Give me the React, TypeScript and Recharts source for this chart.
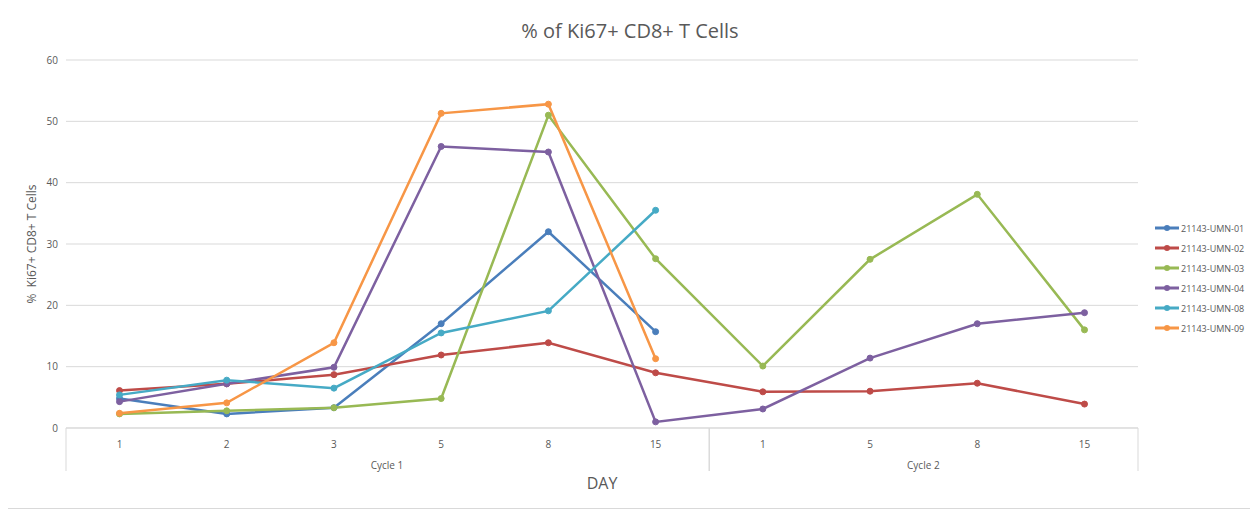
import React from 'react';
import { LineChart, Line, XAxis, YAxis, CartesianGrid } from 'recharts';

// category axis: day within cycle
const days = ['1', '2', '3', '5', '8', '15', '1', '5', '8', '15'];
const cycleGroups = [
  { label: 'Cycle 1', start: 0, count: 6 },
  { label: 'Cycle 2', start: 6, count: 4 },
];
const yTicks = [0, 10, 20, 30, 40, 50, 60];

const umn01 = [4.8, 2.3, 3.3, 17.0, 32.0, 15.7, null, null, null, null];
const umn02 = [6.1, 7.2, 8.7, 11.9, 13.9, 9.0, 5.9, 6.0, 7.3, 3.9];
const umn03 = [2.3, 2.8, 3.3, 4.8, 51.0, 27.6, 10.1, 27.5, 38.1, 16.0];
const umn04 = [4.3, 7.2, 9.9, 45.9, 45.0, 1.0, 3.1, 11.4, 17.0, 18.8];
const umn08 = [5.4, 7.8, 6.5, 15.5, 19.1, 35.5, null, null, null, null];
const umn09 = [2.4, 4.1, 13.9, 51.3, 52.8, 11.3, null, null, null, null];

const series = [
  { key: '21143-UMN-01', values: umn01, color: '#4a7ebb' },
  { key: '21143-UMN-02', values: umn02, color: '#be4b48' },
  { key: '21143-UMN-03', values: umn03, color: '#98b954' },
  { key: '21143-UMN-04', values: umn04, color: '#7d60a0' },
  { key: '21143-UMN-08', values: umn08, color: '#46aac5' },
  { key: '21143-UMN-09', values: umn09, color: '#f79646' },
];

const data = days.map((d, i) => {
  const row: any = { id: `p${i}`, day: d };
  series.forEach(s => { row[s.key] = s.values[i]; });
  return row;
});

const FONT = '"Open Sans", sans-serif';
const TEXT = '#595959';
const GRID = '#d9d9d9';
const STEP = 107; // width of one category band
const HALF = STEP / 2;

const DayTick = (props: any) => {
  const { x, y, payload } = props;
  const i = payload.index;
  const parts: React.ReactNode[] = [];
  parts.push(
    <text key="d" x={x} y={y + 20} textAnchor="middle" fontSize={10} fill={TEXT} fontFamily={FONT}>
      {days[i]}
    </text>
  );
  cycleGroups.forEach(g => {
    if (i === g.start) {
      parts.push(<line key="l" x1={x - HALF} x2={x - HALF} y1={y} y2={y + 43} stroke={GRID} />);
      parts.push(
        <text key="c" x={x + ((g.count - 1) / 2) * STEP} y={y + 41} textAnchor="middle" fontSize={10} fill={TEXT} fontFamily={FONT}>
          {g.label}
        </text>
      );
    }
    if (i === g.start + g.count - 1) {
      parts.push(<line key="r" x1={x + HALF} x2={x + HALF} y1={y} y2={y + 43} stroke={GRID} />);
    }
  });
  return <g>{parts}</g>;
};

const LegendBox = () => (
  <div style={{ position: 'absolute', left: 1150, top: 211, width: 100, fontFamily: FONT, fontSize: 9, color: TEXT }}>
    {series.map(s => (
      <div key={s.key} style={{ display: 'flex', alignItems: 'center', height: 20, whiteSpace: 'nowrap' }}>
        <svg width={24} height={10}>
          <line x1={0} x2={24} y1={5} y2={5} stroke={s.color} strokeWidth={3} />
          <circle cx={12} cy={5} r={3} fill={s.color} />
        </svg>
        <span style={{ marginLeft: 2 }}>{s.key}</span>
      </div>
    ))}
  </div>
);

const YLabel = (props: any) => {
  const { viewBox } = props;
  const cx = viewBox.x + 26;
  const cy = viewBox.y + viewBox.height / 2;
  return (
    <text x={cx} y={cy} transform={`rotate(-90 ${cx} ${cy})`} textAnchor="middle" dominantBaseline="central"
      fontSize={12} fill={TEXT} fontFamily={FONT}>
      {'%\u00a0 Ki67+ CD8+ T Cells'}
    </text>
  );
};

export default function App() {
  return (
    <div style={{ position: 'relative', width: 1250, height: 503, marginLeft: -4, marginTop: -2, border: `1px solid ${GRID}`, boxSizing: 'border-box', background: '#fff' }}>
      <div style={{ position: 'absolute', top: 10, left: 0, width: 1250, textAlign: 'center', fontFamily: FONT, fontSize: 20, color: TEXT }}>
        % of Ki67+ CD8+ T Cells
      </div>
      <LineChart width={1248} height={501} data={data} margin={{ top: 53, right: 115, bottom: 50, left: 0 }}>
        <CartesianGrid vertical={false} stroke={GRID} />
        <XAxis
          dataKey="id"
          tick={<DayTick />}
          tickLine={false}
          tickSize={0}
          tickMargin={0}
          interval={0}
          axisLine={{ stroke: GRID }}
          padding={{ left: HALF, right: HALF }}
          height={30}
          label={{ value: 'DAY', position: 'bottom', offset: 20, fontSize: 16, fill: TEXT, fontFamily: FONT }}
        />
        <YAxis
          domain={[0, 60]}
          ticks={yTicks}
          width={61}
          axisLine={false}
          tickLine={false}
          tick={{ fontSize: 10, fill: TEXT, fontFamily: FONT }}
          label={<YLabel />}
        />
        {series.map(s => (
          <Line
            key={s.key}
            dataKey={s.key}
            stroke={s.color}
            strokeWidth={2.5}
            dot={{ r: 3, fill: s.color, stroke: s.color, strokeWidth: 1 }}
            activeDot={false}
            isAnimationActive={false}
          />
        ))}
      </LineChart>
      <LegendBox />
    </div>
  );
}
